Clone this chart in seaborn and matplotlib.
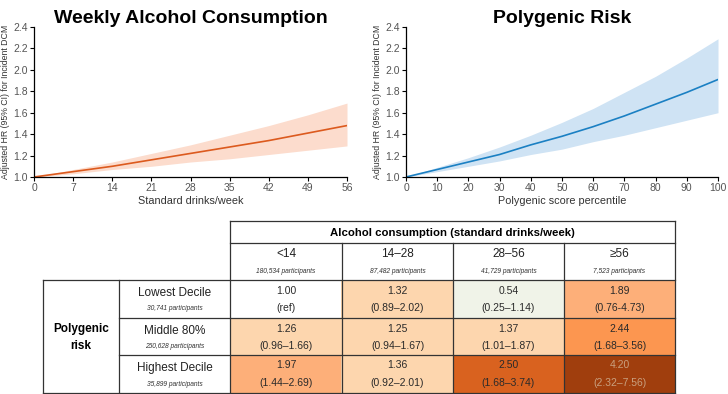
import numpy as np
import pandas as pd
import matplotlib.pyplot as plt
from matplotlib.colors import ListedColormap, BoundaryNorm
import seaborn as sns

# Spline estimates
drinks = [0, 7, 14, 21, 28, 35, 42, 49, 56]
alc_hr = [1.00, 1.05, 1.10, 1.16, 1.22, 1.28, 1.34, 1.41, 1.48]
alc_lo = [1.00, 1.03, 1.07, 1.10, 1.14, 1.17, 1.21, 1.25, 1.29]
alc_hi = [1.00, 1.07, 1.14, 1.22, 1.30, 1.39, 1.48, 1.58, 1.69]

pctl = [0, 10, 20, 30, 40, 50, 60, 70, 80, 90, 100]
prs_hr = [1.00, 1.07, 1.14, 1.21, 1.30, 1.38, 1.47, 1.57, 1.68, 1.79, 1.91]
prs_lo = [1.00, 1.05, 1.10, 1.15, 1.21, 1.26, 1.33, 1.39, 1.46, 1.53, 1.60]
prs_hi = [1.00, 1.09, 1.18, 1.28, 1.39, 1.51, 1.64, 1.79, 1.94, 2.11, 2.29]

# Table
alc_groups = ["<14", "14\u201328", "28\u201356", "\u226556"]
alc_n = ["180,534 participants", "87,482 participants", "41,729 participants", "7,523 participants"]
risk_groups = ["Lowest Decile", "Middle 80%", "Highest Decile"]
risk_n = ["30,741 participants", "250,628 participants", "35,899 participants"]
hr_table = [[1.00, 1.32, 0.54, 1.89],
            [1.26, 1.25, 1.37, 2.44],
            [1.97, 1.36, 2.50, 4.20]]
ci_table = [["(ref)", "(0.89\u20132.02)", "(0.25\u20131.14)", "(0.76-4.73)"],
            ["(0.96\u20131.66)", "(0.94\u20131.67)", "(1.01\u20131.87)", "(1.68\u20133.56)"],
            ["(1.44\u20132.69)", "(0.92\u20132.01)", "(1.68\u20133.74)", "(2.32\u20137.56)"]]

sns.set_style("ticks")
plt.rcParams['font.family'] = ['Liberation Sans', 'DejaVu Sans']

W, H = 728, 394
fig = plt.figure(figsize=(W / 100, H / 100), dpi=100)


def px_axes(x0, y0, x1, y1):
    return fig.add_axes([x0 / W, 1 - y1 / H, (x1 - x0) / W, (y1 - y0) / H])


def curve_panel(ax, x, hr, lo, hi, line_c, band_c, title, xlabel, xticks):
    ax.fill_between(x, lo, hi, color=band_c, lw=0)
    sns.lineplot(x=x, y=hr, ax=ax, color=line_c, lw=1.2)
    ax.set_xlim(x[0], x[-1])
    ax.set_ylim(1.0, 2.4)
    ax.set_xticks(xticks)
    ax.set_yticks(np.arange(1.0, 2.41, 0.2))
    ax.yaxis.set_major_formatter(plt.FormatStrFormatter('%.1f'))
    ax.tick_params(labelsize=7.5, labelcolor='#555555', color='black', length=3, width=0.8, pad=1.5)
    sns.despine(ax=ax)
    for s in ['left', 'bottom']:
        ax.spines[s].set_linewidth(0.9)
        ax.spines[s].set_color('black')
    ax.set_title(title, fontsize=14, fontweight='bold', color='black', pad=3)
    ax.set_xlabel(xlabel, fontsize=7.8, color='#333333', labelpad=2)
    ax.set_ylabel("Adjusted HR (95% CI) for Incident DCM", fontsize=6.3, color='#333333', labelpad=2)


ax1 = px_axes(34, 27, 347, 177)
curve_panel(ax1, drinks, alc_hr, alc_lo, alc_hi, '#dc5a1e', '#fcdccd',
            "Weekly Alcohol Consumption", "Standard drinks/week", drinks)
ax2 = px_axes(406, 27, 718, 177)
curve_panel(ax2, pctl, prs_hr, prs_lo, prs_hi, '#1b80c3', '#cfe3f4',
            "Polygenic Risk", "Polygenic score percentile", pctl)

# Heatmap cells
cell_colors = ['#f0f3e8', '#ffffff', '#fdd6ae', '#fdaf79', '#fc9650', '#d9621f', '#a03e0d']
bounds = [0, 0.9, 1.1, 1.5, 2.2, 2.47, 3.0, 5.0]
cmap = ListedColormap(cell_colors)
norm = BoundaryNorm(bounds, cmap.N)
hm_df = pd.DataFrame(hr_table, index=risk_groups, columns=alc_groups)
axh = px_axes(230, 280, 675, 393)
sns.heatmap(hm_df, ax=axh, cmap=cmap, norm=norm, cbar=False,
            xticklabels=False, yticklabels=False)
axh.set_xlabel("")
axh.set_ylabel("")

# Overlay for table grid and text
ov = fig.add_axes([0, 0, 1, 1])
ov.set_xlim(0, W)
ov.set_ylim(H, 0)
ov.axis('off')
lc = '#333333'
lw = 0.9
col_x = [230, 342, 453, 564, 675]
row_y = [280, 318, 355, 393]


def hline(y, x0, x1):
    ov.plot([x0, x1], [y, y], color=lc, lw=lw, solid_capstyle='projecting')


def vline(x, y0, y1):
    ov.plot([x, x], [y0, y1], color=lc, lw=lw, solid_capstyle='projecting')


hline(221, 230, 675)
hline(243, 230, 675)
hline(280, 43, 675)
hline(318, 119, 675)
hline(355, 119, 675)
hline(393, 43, 675)
vline(230, 221, 393)
vline(675, 221, 393)
vline(43, 280, 393)
vline(119, 280, 393)
for x in col_x[1:-1]:
    vline(x, 243, 393)

ov.text(452.5, 233, "Alcohol consumption (standard drinks/week)", ha='center', va='center',
        fontsize=8.2, fontweight='bold', color='black')
for j, (g, n) in enumerate(zip(alc_groups, alc_n)):
    xc = (col_x[j] + col_x[j + 1]) / 2
    ov.text(xc, 254, g, ha='center', va='center', fontsize=8.5, color='#222222')
    ov.text(xc, 271.5, n, ha='center', va='center', fontsize=4.8, style='italic', color='#333333')

ov.text(81, 337.5, "Polygenic\nrisk", ha='center', va='center', fontsize=8.5,
        fontweight='bold', color='black', linespacing=1.5)
for i, (g, n) in enumerate(zip(risk_groups, risk_n)):
    yc = row_y[i]
    ov.text(174.5, yc + 13, g, ha='center', va='center', fontsize=8.5, color='#222222')
    ov.text(174.5, yc + 29, n, ha='center', va='center', fontsize=4.8, style='italic', color='#333333')
    for j in range(4):
        xc = (col_x[j] + col_x[j + 1]) / 2
        tc = '#c9a07f' if hr_table[i][j] > 3 else '#2a2a2a'
        ov.text(xc, yc + 10.5, f"{hr_table[i][j]:.2f}", ha='center', va='center', fontsize=7.5, color=tc)
        ov.text(xc, yc + 28, ci_table[i][j], ha='center', va='center', fontsize=7.5, color=tc)

fig.savefig("out.png", dpi=100)
